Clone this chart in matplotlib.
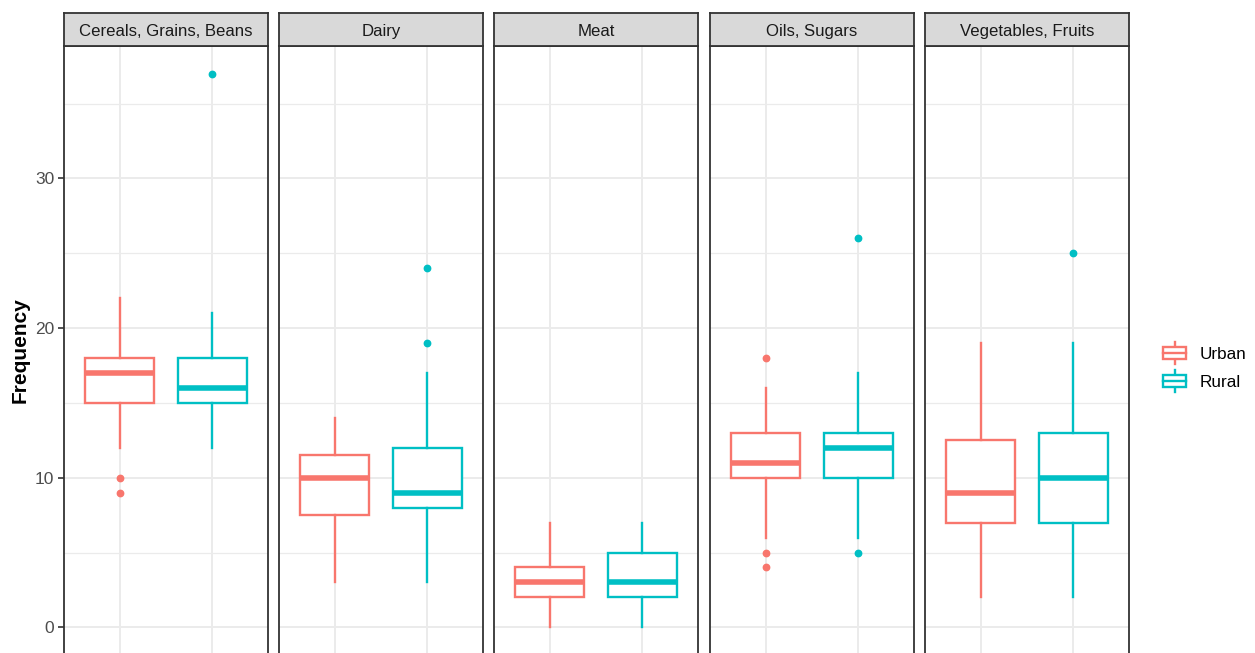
import matplotlib
matplotlib.use("Agg")
import matplotlib.pyplot as plt
from matplotlib.legend_handler import HandlerBase
from matplotlib.patches import Rectangle
from matplotlib.lines import Line2D

plt.rcParams['font.family'] = ['Liberation Sans', 'DejaVu Sans']

categories = ["Cereals, Grains, Beans", "Dairy", "Meat", "Oils, Sugars", "Vegetables, Fruits"]
groups = ["Urban", "Rural"]
colors = {"Urban": "#F8766D", "Rural": "#00BFC4"}

# Five-number summaries per category: [whisker low, Q1, median, Q3, whisker high]
urban_stats = [
    [12, 15, 17, 18, 22],
    [3, 7.5, 10, 11.5, 14],
    [0, 2, 3, 4, 7],
    [6, 10, 11, 13, 16],
    [2, 7, 9, 12.5, 19],
]
rural_stats = [
    [12, 15, 16, 18, 21],
    [3, 8, 9, 12, 17],
    [0, 2, 3, 5, 7],
    [6, 10, 12, 13, 17],
    [2, 7, 10, 13, 19],
]
urban_outliers = [[10, 9], [], [], [18, 5, 4], []]
rural_outliers = [[37], [24, 19], [], [26, 5], [25]]

y_ticks = [0, 10, 20, 30]
y_label = "Frequency"

W, H = 1255, 653
fig = plt.figure(figsize=(W / 100, H / 100), dpi=100)

panel_lefts = [64, 279, 494, 710, 925]
panel_w = 204
panel_top = 46
panel_bottom = 655
strip_top = 13

border_col = "#333333"
grid_col = "#EBEBEB"
lw = 1.7


def to_stats(s, fl):
    return dict(whislo=s[0], q1=s[1], med=s[2], q3=s[3], whishi=s[4], fliers=fl)


for i, cat in enumerate(categories):
    left = panel_lefts[i] / W
    bottom = (H - panel_bottom) / H
    height = (panel_bottom - panel_top) / H
    ax = fig.add_axes([left, bottom, panel_w / W, height])
    ax.set_xlim(0.4, 2.6)
    ax.set_ylim(-1.85, 38.85)
    ax.set_yticks(y_ticks)
    ax.set_yticks([5, 15, 25, 35], minor=True)
    ax.set_xticks([1, 2])
    ax.grid(True, which="major", color=grid_col, linewidth=1.4, zorder=0)
    ax.grid(True, which="minor", axis="y", color=grid_col, linewidth=0.9, zorder=0)
    ax.set_axisbelow(True)
    for sp in ax.spines.values():
        sp.set_color(border_col)
        sp.set_linewidth(1.3)
    ax.tick_params(axis="x", length=0, labelbottom=False)
    ax.tick_params(axis="y", which="minor", length=0)
    if i == 0:
        ax.tick_params(axis="y", which="major", length=4, color=border_col,
                       labelsize=12.5, labelcolor="#4D4D4D", width=1.2, pad=3)
    else:
        ax.tick_params(axis="y", which="major", length=0, labelleft=False)

    for j, (g, st, fl) in enumerate([("Urban", urban_stats[i], urban_outliers[i]),
                                     ("Rural", rural_stats[i], rural_outliers[i])]):
        c = colors[g]
        ax.bxp([to_stats(st, fl)], positions=[j + 1], widths=0.75,
               patch_artist=True, showcaps=False,
               boxprops=dict(facecolor="white", edgecolor=c, linewidth=lw),
               whiskerprops=dict(color=c, linewidth=lw),
               medianprops=dict(color=c, linewidth=4.0, solid_capstyle="butt"),
               flierprops=dict(marker="o", markerfacecolor=c, markeredgecolor=c,
                               markersize=4.6, linestyle="none"),
               zorder=3)

    # facet strip
    sax = fig.add_axes([left, (H - panel_top) / H, panel_w / W, (panel_top - strip_top) / H])
    sax.set_facecolor("#D9D9D9")
    sax.set_xticks([])
    sax.set_yticks([])
    for sp in sax.spines.values():
        sp.set_color(border_col)
        sp.set_linewidth(1.3)
    sax.text(0.5, 0.45, cat, ha="center", va="center", fontsize=12.1,
             color="#1A1A1A", transform=sax.transAxes)

fig.text(20 / W, (H - 350) / H, y_label, rotation=90, ha="center", va="center",
         fontsize=15, fontweight="bold", color="black")


class BoxKeyHandler(HandlerBase):
    def create_artists(self, legend, orig_handle, xdescent, ydescent, width, height,
                       fontsize, trans):
        c = orig_handle.get_color()
        x0 = -xdescent
        y0 = -ydescent
        cx = x0 + width / 2
        rect = Rectangle((x0 + width * 0.08, y0 + height * 0.2), width * 0.84, height * 0.6,
                         facecolor="white", edgecolor=c, linewidth=lw, transform=trans)
        med = Line2D([x0 + width * 0.08, x0 + width * 0.92], [y0 + height * 0.5] * 2,
                     color=c, linewidth=lw, transform=trans)
        wl = Line2D([cx, cx], [y0 - height * 0.05, y0 + height * 0.2], color=c,
                    linewidth=lw, transform=trans)
        wh = Line2D([cx, cx], [y0 + height * 0.8, y0 + height * 1.05], color=c,
                    linewidth=lw, transform=trans)
        return [wl, wh, rect, med]


handles = [Line2D([], [], color=colors[g]) for g in groups]
fig.legend(handles, groups, loc="center left", bbox_to_anchor=(1151 / W, (H - 367) / H),
           frameon=False, fontsize=12.3, handler_map={Line2D: BoxKeyHandler()},
           handlelength=1.6, handleheight=1.45, labelspacing=0.45, handletextpad=0.65,
           borderpad=0.3, borderaxespad=0.3)

fig.savefig("out.png", dpi=100)
